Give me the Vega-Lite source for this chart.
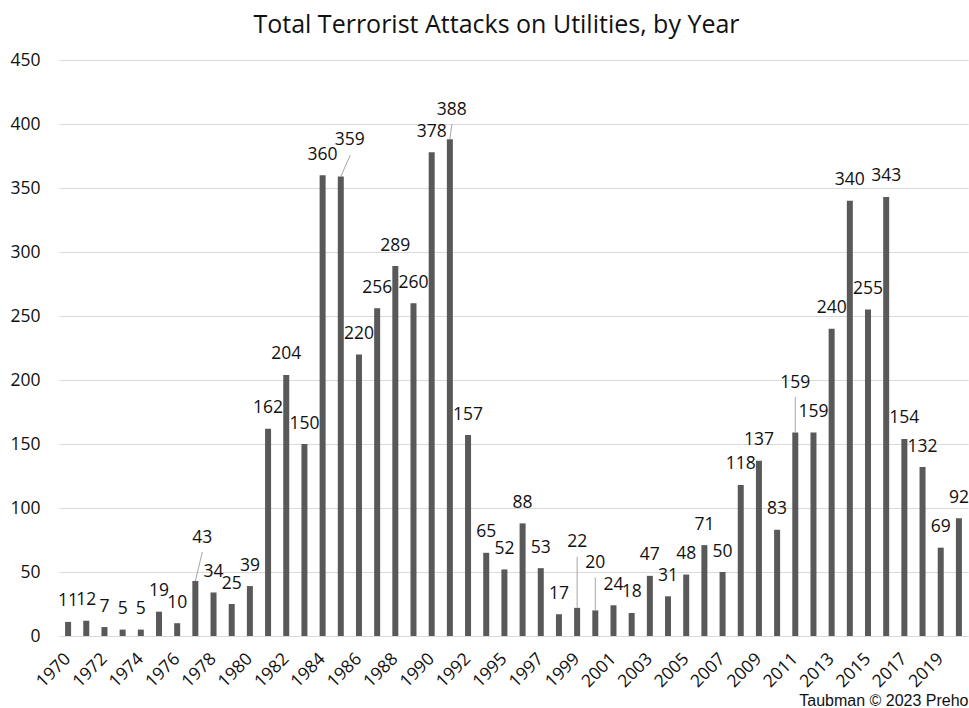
{
  "$schema": "https://vega.github.io/schema/vega-lite/v6.json",
  "autosize": {"type": "none"},
  "padding": {"left": 59, "top": 60, "right": 1, "bottom": 72},
  "width": 909,
  "height": 576,
  "background": "#ffffff",
  "title": {
    "text": "Total Terrorist Attacks on Utilities, by Year",
    "font": "Open Sans",
    "fontSize": 25,
    "fontWeight": "normal",
    "color": "#111111",
    "anchor": "middle",
    "baseline": "alphabetic",
    "offset": -7,
    "dx": -17
  },
  "data": {
    "values": [
      {"year": "1970", "attacks": 11},
      {"year": "1971", "attacks": 12},
      {"year": "1972", "attacks": 7},
      {"year": "1973", "attacks": 5},
      {"year": "1974", "attacks": 5},
      {"year": "1975", "attacks": 19},
      {"year": "1976", "attacks": 10},
      {"year": "1977", "attacks": 43},
      {"year": "1978", "attacks": 34},
      {"year": "1979", "attacks": 25},
      {"year": "1980", "attacks": 39},
      {"year": "1981", "attacks": 162},
      {"year": "1982", "attacks": 204},
      {"year": "1983", "attacks": 150},
      {"year": "1984", "attacks": 360},
      {"year": "1985", "attacks": 359},
      {"year": "1986", "attacks": 220},
      {"year": "1987", "attacks": 256},
      {"year": "1988", "attacks": 289},
      {"year": "1989", "attacks": 260},
      {"year": "1990", "attacks": 378},
      {"year": "1991", "attacks": 388},
      {"year": "1992", "attacks": 157},
      {"year": "1994", "attacks": 65},
      {"year": "1995", "attacks": 52},
      {"year": "1996", "attacks": 88},
      {"year": "1997", "attacks": 53},
      {"year": "1998", "attacks": 17},
      {"year": "1999", "attacks": 22},
      {"year": "2000", "attacks": 20},
      {"year": "2001", "attacks": 24},
      {"year": "2002", "attacks": 18},
      {"year": "2003", "attacks": 47},
      {"year": "2004", "attacks": 31},
      {"year": "2005", "attacks": 48},
      {"year": "2006", "attacks": 71},
      {"year": "2007", "attacks": 50},
      {"year": "2008", "attacks": 118},
      {"year": "2009", "attacks": 137},
      {"year": "2010", "attacks": 83},
      {"year": "2011", "attacks": 159},
      {"year": "2012", "attacks": 159},
      {"year": "2013", "attacks": 240},
      {"year": "2014", "attacks": 340},
      {"year": "2015", "attacks": 255},
      {"year": "2016", "attacks": 343},
      {"year": "2017", "attacks": 154},
      {"year": "2018", "attacks": 132},
      {"year": "2019", "attacks": 69},
      {"year": "2020", "attacks": 92}
    ]
  },
  "encoding": {
    "x": {
      "field": "year",
      "type": "ordinal",
      "sort": null,
      "scale": {"paddingInner": 0.67, "paddingOuter": 0.335},
      "axis": {
        "values": ["1970", "1972", "1974", "1976", "1978", "1980", "1982", "1984", "1986", "1988", "1990", "1992", "1995", "1997", "1999", "2001", "2003", "2005", "2007", "2009", "2011", "2013", "2015", "2017", "2019"],
        "labelAngle": -45,
        "labelAlign": "right",
        "labelBaseline": "middle",
        "labelPadding": 20,
        "labelFont": "Open Sans",
        "labelFontSize": 17.5,
        "labelColor": "#111111",
        "labelOverlap": false,
        "ticks": false,
        "domain": false,
        "grid": false,
        "title": "Taubman © 2023 Preho",
        "titleFont": "Liberation Sans",
        "titleFontSize": 16,
        "titleFontWeight": "normal",
        "titleColor": "#111111",
        "titleAnchor": "end",
        "titleAlign": "right",
        "titleBaseline": "alphabetic",
        "titleX": 909,
        "titleY": 69
      }
    },
    "y": {
      "field": "attacks",
      "type": "quantitative",
      "scale": {"domain": [0, 450], "nice": false},
      "axis": {
        "values": [0, 50, 100, 150, 200, 250, 300, 350, 400, 450],
        "title": null,
        "ticks": false,
        "domain": false,
        "labelPadding": 19,
        "labelFont": "Open Sans",
        "labelFontSize": 17.5,
        "labelColor": "#111111",
        "gridColor": "#d9d9d9",
        "gridWidth": 1
      }
    }
  },
  "layer": [
    {"mark": {"type": "bar", "color": "#595959"}},
    {
      "transform": [{"filter": "indexof(['1977','1985','1991','1999','2000','2011'], datum.year) < 0"}],
      "mark": {"type": "text", "font": "Open Sans", "fontSize": 17.5, "color": "#111111", "align": "center", "baseline": "alphabetic", "dy": -15.5},
      "encoding": {"text": {"field": "attacks", "type": "quantitative"}}
    },
    {
      "transform": [{"filter": "datum.year == '1977'"}],
      "layer": [
        {"mark": {"type": "rule", "color": "#a6a6a6", "strokeWidth": 1, "x2Offset": 7, "y2Offset": -29}, "encoding": {"x2": {"field": "year"}, "y2": {"field": "attacks"}}},
        {"mark": {"type": "text", "font": "Open Sans", "fontSize": 17.5, "color": "#111111", "align": "center", "baseline": "alphabetic", "dx": 7, "dy": -38}, "encoding": {"text": {"field": "attacks", "type": "quantitative"}}}
      ]
    },
    {
      "transform": [{"filter": "datum.year == '1985'"}],
      "layer": [
        {"mark": {"type": "rule", "color": "#a6a6a6", "strokeWidth": 1, "x2Offset": 9.5, "y2Offset": -21.5}, "encoding": {"x2": {"field": "year"}, "y2": {"field": "attacks"}}},
        {"mark": {"type": "text", "font": "Open Sans", "fontSize": 17.5, "color": "#111111", "align": "center", "baseline": "alphabetic", "dx": 9, "dy": -31.5}, "encoding": {"text": {"field": "attacks", "type": "quantitative"}}}
      ]
    },
    {
      "transform": [{"filter": "datum.year == '1991'"}],
      "layer": [
        {"mark": {"type": "rule", "color": "#a6a6a6", "strokeWidth": 1, "x2Offset": 2, "y2Offset": -15}, "encoding": {"x2": {"field": "year"}, "y2": {"field": "attacks"}}},
        {"mark": {"type": "text", "font": "Open Sans", "fontSize": 17.5, "color": "#111111", "align": "center", "baseline": "alphabetic", "dx": 2, "dy": -24.5}, "encoding": {"text": {"field": "attacks", "type": "quantitative"}}}
      ]
    },
    {
      "transform": [{"filter": "datum.year == '1999'"}],
      "layer": [
        {"mark": {"type": "rule", "color": "#a6a6a6", "strokeWidth": 1, "y2Offset": -51}, "encoding": {"y2": {"field": "attacks"}}},
        {"mark": {"type": "text", "font": "Open Sans", "fontSize": 17.5, "color": "#111111", "align": "center", "baseline": "alphabetic", "dy": -61}, "encoding": {"text": {"field": "attacks", "type": "quantitative"}}}
      ]
    },
    {
      "transform": [{"filter": "datum.year == '2000'"}],
      "layer": [
        {"mark": {"type": "rule", "color": "#a6a6a6", "strokeWidth": 1, "y2Offset": -33}, "encoding": {"y2": {"field": "attacks"}}},
        {"mark": {"type": "text", "font": "Open Sans", "fontSize": 17.5, "color": "#111111", "align": "center", "baseline": "alphabetic", "dy": -42}, "encoding": {"text": {"field": "attacks", "type": "quantitative"}}}
      ]
    },
    {
      "transform": [{"filter": "datum.year == '2011'"}],
      "layer": [
        {"mark": {"type": "rule", "color": "#a6a6a6", "strokeWidth": 1, "y2Offset": -35.5}, "encoding": {"y2": {"field": "attacks"}}},
        {"mark": {"type": "text", "font": "Open Sans", "fontSize": 17.5, "color": "#111111", "align": "center", "baseline": "alphabetic", "dy": -44.5}, "encoding": {"text": {"field": "attacks", "type": "quantitative"}}}
      ]
    }
  ],
  "config": {"view": {"stroke": null}}
}
